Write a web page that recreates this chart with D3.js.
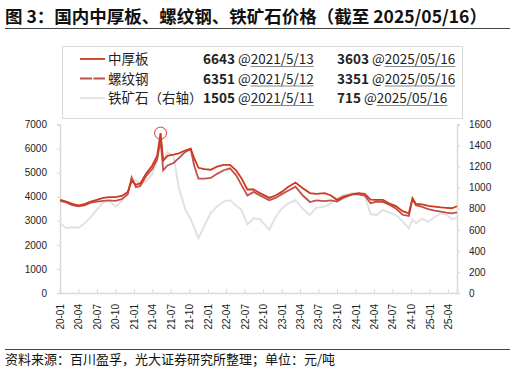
<html>
<head>
<meta charset="utf-8">
<script src="https://d3js.org/d3.v7.min.js"></script>
<style>
body { margin: 0; background: #fff; }
text { font-family: "Noto Sans CJK SC", "Noto Sans", sans-serif; }
</style>
</head>
<body>
<svg id="chart"></svg>
<script>
// dates of the readings, and values
var dates = ["2020-01-02","2020-02-01","2020-03-01","2020-04-01","2020-05-01","2020-06-01","2020-07-01","2020-08-01",
  "2020-09-01","2020-10-01","2020-11-01","2020-12-01","2020-12-20","2021-01-10","2021-02-01","2021-03-01",
  "2021-04-01","2021-04-25","2021-05-12","2021-05-25","2021-06-15","2021-07-15","2021-08-10","2021-09-10",
  "2021-10-08","2021-10-25","2021-11-15","2021-12-15","2022-01-15","2022-02-15","2022-03-20","2022-04-20",
  "2022-05-20","2022-06-15","2022-07-15","2022-08-15","2022-09-15","2022-10-31","2022-12-01","2023-01-01",
  "2023-02-01","2023-03-10","2023-04-15","2023-05-20","2023-06-20","2023-08-01","2023-09-01","2023-10-01",
  "2023-11-01","2023-12-15","2024-01-15","2024-02-15","2024-03-15","2024-04-15","2024-05-15","2024-06-20",
  "2024-07-20","2024-08-20","2024-09-20","2024-10-08","2024-10-25","2024-11-25","2024-12-25","2025-01-25",
  "2025-02-25","2025-03-25","2025-04-20","2025-05-16"];
var plate = [3870,3800,3700,3640,3690,3800,3870,3950,3980,3980,4030,4200,4650,4500,4550,4950,
  5300,5700,6643,5500,5700,5750,5800,5920,6000,5600,5200,5150,5120,5250,5320,5320,
  5100,4780,4300,4300,4150,3950,4050,4200,4400,4590,4350,4150,4120,4150,4050,3870,
  4000,4100,4150,4120,3880,3870,3870,3700,3600,3400,3310,3940,3700,3680,3620,3590,
  3560,3540,3520,3603];
var rebar = [3830,3760,3650,3600,3640,3750,3800,3830,3850,3830,3900,4100,4800,4400,4450,4850,
  5150,5550,6351,5100,5300,5400,5600,5850,5980,5300,4750,4750,4780,4950,5100,5180,
  4900,4500,4050,4200,4050,3850,3950,4100,4250,4420,4050,3780,3850,3820,3850,3800,
  3950,4100,4100,4050,3730,3800,3780,3650,3500,3250,3200,3900,3650,3580,3480,3420,
  3380,3340,3310,3351];
var ore = [660,615,625,620,660,720,790,860,880,820,870,960,1060,1070,1040,1060,
  1130,1250,1505,1250,1340,1300,1000,800,700,620,520,640,760,820,870,880,
  830,790,650,710,700,600,720,800,850,880,800,740,810,820,850,900,
  930,950,940,920,750,740,790,760,740,680,615,700,665,705,675,720,
  755,745,700,715];
var leftTicks = [0,1000,2000,3000,4000,5000,6000,7000];
var rightTicks = [0,200,400,600,800,1000,1200,1400,1600];
var seriesNames = ["中厚板", "螺纹钢", "铁矿石（右轴）"];
var highs = [["6643","2021/5/13"],["6351","2021/5/12"],["1505","2021/5/11"]];
var lasts = [["3603","2025/05/16"],["3351","2025/05/16"],["715","2025/05/16"]];

var W = 515, H = 372;
var svg = d3.select("#chart").attr("width", W).attr("height", H);

var parse = d3.timeParse("%Y-%m-%d");
var dd = dates.map(parse);

var x = d3.scaleTime().domain([parse("2020-01-01"), parse("2025-05-16")]).range([60, 457]);
var yL = d3.scaleLinear().domain([0, 7000]).range([293, 124.5]);
var yR = d3.scaleLinear().domain([0, 1600]).range([293, 124.5]);

// title
svg.append("text").attr("x", 5).attr("y", 23)
  .style("font-size", "17.5px").style("font-weight", "bold").attr("fill", "#111")
  .text("图 3：国内中厚板、螺纹钢、铁矿石价格（截至 2025/05/16）");
svg.append("line").attr("x1", 5).attr("x2", 510).attr("y1", 28.5).attr("y2", 28.5)
  .attr("stroke", "#444").attr("stroke-width", 1.2);

// footer
svg.append("line").attr("x1", 5).attr("x2", 510).attr("y1", 349.5).attr("y2", 349.5)
  .attr("stroke", "#444").attr("stroke-width", 1);
svg.append("text").attr("x", 5).attr("y", 364)
  .style("font-size", "13px").attr("fill", "#111")
  .text("资料来源：百川盈孚，光大证券研究所整理；单位：元/吨");

// axes
var gL = svg.append("g").attr("transform", "translate(60,0)")
  .call(d3.axisLeft(yL).tickValues(leftTicks).tickSize(3).tickPadding(10).tickFormat(d3.format("d")));
var gR = svg.append("g").attr("transform", "translate(457,0)")
  .call(d3.axisRight(yR).tickValues(rightTicks).tickSize(3).tickPadding(9).tickFormat(d3.format("d")));
var xTicks = d3.timeMonth.every(3).range(parse("2020-01-01"), parse("2025-05-01"));
var gX = svg.append("g").attr("transform", "translate(0,293)")
  .call(d3.axisBottom(x).tickValues(xTicks).tickSize(-4).tickPadding(0).tickFormat(d3.timeFormat("%y-%m")));

[gL, gR, gX].forEach(function (g) {
  g.selectAll(".domain").attr("stroke", "#d9d9d9").attr("stroke-width", 1.5);
  g.selectAll(".tick line").attr("stroke", "#d9d9d9");
  g.selectAll("text").style("font-size", "10px").attr("fill", "#222")
    .style("font-family", "'Liberation Sans', 'DejaVu Sans', sans-serif");
});
gX.selectAll("text")
  .attr("transform", "rotate(-90)")
  .attr("text-anchor", "end")
  .attr("x", -11).attr("y", 0).attr("dy", "0.35em");

// lines
var mk = function (vals, sc) {
  return d3.line().x(function (d, i) { return x(dd[i]); }).y(function (d) { return sc(d); })(vals);
};
svg.append("path").attr("d", mk(ore, yR)).attr("fill", "none")
  .attr("stroke", "#e2e2e2").attr("stroke-width", 2);
svg.append("path").attr("d", mk(rebar, yL)).attr("fill", "none")
  .attr("stroke", "#c0504d").attr("stroke-width", 1.8);
svg.append("path").attr("d", mk(plate, yL)).attr("fill", "none")
  .attr("stroke", "#cc3a1e").attr("stroke-width", 1.8);

// peak marker
var pk = plate.indexOf(d3.max(plate));
svg.append("circle").attr("cx", x(dd[pk])).attr("cy", yL(plate[pk])).attr("r", 6)
  .attr("fill", "none").attr("stroke", "#e8322a").attr("stroke-width", 1);

// legend
svg.append("rect").attr("x", 62.5).attr("y", 46.5).attr("width", 400).attr("height", 72)
  .attr("fill", "#fff").attr("stroke", "#d9d9d9");
var colors = ["#cc3a1e", "#c0504d", "#e2e2e2"];
var dash = [null, "12,1.5", null];
seriesNames.forEach(function (name, i) {
  var cy = 59 + i * 19.5;
  svg.append("line").attr("x1", 80).attr("x2", 105).attr("y1", cy).attr("y2", cy)
    .attr("stroke", colors[i]).attr("stroke-width", 1.8).attr("stroke-dasharray", dash[i]);
  svg.append("text").attr("x", 108).attr("y", cy + 5).style("font-size", "13.5px").attr("fill", "#222").text(name);
  [[203, highs[i]], [337, lasts[i]]].forEach(function (p) {
    var t = svg.append("text").attr("x", p[0]).attr("y", cy + 5).style("font-size", "13.5px").attr("fill", "#222");
    t.append("tspan").style("font-weight", "bold").text(p[1][0]);
    t.append("tspan").text(" @");
    var u = t.append("tspan").text(p[1][1]);
    var node = t.node();
    var full = node.getComputedTextLength();
    var sub = u.node().getComputedTextLength();
    svg.append("line").attr("x1", p[0] + full - sub).attr("x2", p[0] + full)
      .attr("y1", cy + 7.5).attr("y2", cy + 7.5).attr("stroke", "#888").attr("stroke-width", 1);
  });
});
</script>
</body>
</html>
